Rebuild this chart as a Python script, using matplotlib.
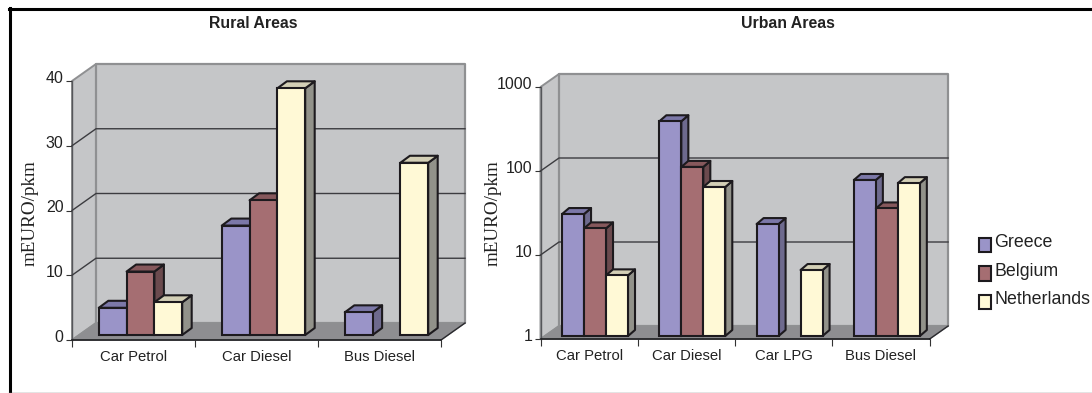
import matplotlib as mpl
mpl.use('Agg')
import matplotlib.pyplot as plt
import matplotlib.transforms as mtrans
from matplotlib.patches import Polygon, Patch
from matplotlib.lines import Line2D
import numpy as np

W, H = 1092, 393

series_names = ['Greece', 'Belgium', 'Netherlands']
face_colors = ['#9a94c8', '#a56e72', '#fff9d6']
side_colors = ['#6e6a8e', '#6b4a4e', '#92928a']
top_colors = ['#7c78a8', '#86585c', '#d3cfb6']

rural_cats = ['Car Petrol', 'Car Diesel', 'Bus Diesel']
rural_greece = [4.2, 16.9, 3.5]
rural_belgium = [9.8, 20.8, None]
rural_netherlands = [5.05, 38.1, 26.6]
rural_ticks = [0, 10, 20, 30, 40]

urban_cats = ['Car Petrol', 'Car Diesel', 'Car LPG', 'Bus Diesel']
urban_greece = [28.3, 360, 21.5, 72]
urban_belgium = [19.1, 103, None, 33]
urban_netherlands = [5.27, 59.4, 6.1, 66]
urban_ticks = [1, 10, 100, 1000]

plt.rcParams['font.family'] = ['Liberation Sans', 'DejaVu Sans']
EDGE = '#1d1a1e'
WALL = '#c5c6c8'
WALL_EDGE = '#8f9092'
FLOOR = '#8e8e91'
ident = mtrans.IdentityTransform()

fig = plt.figure(figsize=(W / 100, H / 100), dpi=100)


def make_axes(left, right, top, bottom):
    # pixel box of the front plane, y measured from the top of the image
    return fig.add_axes([left / W, 1 - bottom / H, (right - left) / W, (bottom - top) / H])


def poly(ax, pts, fc, ec=None, lw=0, z=1):
    ax.add_patch(Polygon(pts, closed=True, facecolor=fc, edgecolor=ec if ec else fc,
                         linewidth=lw, transform=ident, clip_on=False, zorder=z, joinstyle='round'))


def box_plot(ax, cats, groups, ticks, depth, shift, bar_depth, ylog=False):
    n = len(cats)
    if ylog:
        ax.set_yscale('log')
    ax.set_xlim(0, n)
    ax.set_ylim(ticks[0], ticks[-1])
    ax.patch.set_visible(False)

    # walls and floor behind the bars
    x0, y0 = ax.transAxes.transform((0, 0))
    x1, y1 = ax.transAxes.transform((1, 1))
    dx, dy = depth
    poly(ax, [(x0, y0), (x0 + dx, y0 + dy), (x0 + dx, y1 + dy), (x0, y1)], WALL, WALL_EDGE, 1.4, 1)
    poly(ax, [(x0 + dx, y0 + dy), (x1 + dx, y0 + dy), (x1 + dx, y1 + dy), (x0 + dx, y1 + dy)], WALL, WALL_EDGE, 1.6, 1)
    poly(ax, [(x0, y0), (x0 + dx, y0 + dy), (x1 + dx, y0 + dy), (x1, y0)], FLOOR, WALL_EDGE, 1, 2)

    for t in ticks[1:-1]:
        yt = ax.transData.transform((0, t))[1]
        ax.add_line(Line2D([x0, x0 + dx, x1 + dx], [yt, yt + dy, yt + dy], color='#3c3c40', lw=1.0,
                           transform=ident, clip_on=False, zorder=3))
    # floor edge running back on the right
    ax.add_line(Line2D([x1, x1 + dx], [y0, y0 + dy], color='#2a2a2e', lw=1.0, transform=ident, clip_on=False, zorder=3))

    offset = ax.transData + mtrans.Affine2D().translate(shift[0], shift[1])
    width = 0.226
    z = 5
    for i in range(n):
        for j, vals in enumerate(groups):
            v = vals[i]
            if v is None:
                continue
            xl = i + 0.5 + (j - 1.5) * width
            xr = xl + width
            (ax0, ay0) = offset.transform((xl, ticks[0]))
            (ax1, ay1) = offset.transform((xr, v))
            bx, by = bar_depth
            poly(ax, [(ax1, ay0), (ax1 + bx, ay0 + by), (ax1 + bx, ay1 + by), (ax1, ay1)], side_colors[j], EDGE, 1.5, z)
            poly(ax, [(ax0, ay1), (ax0 + bx, ay1 + by), (ax1 + bx, ay1 + by), (ax1, ay1)], top_colors[j], EDGE, 1.5, z)
            ax.bar(xl, v - ticks[0], width, bottom=ticks[0], align='edge', color=face_colors[j], edgecolor=EDGE,
                   linewidth=1.5, transform=offset, zorder=z + 1, clip_on=False)
            z += 2

    for s in ['top', 'right']:
        ax.spines[s].set_visible(False)
    ax.spines['left'].set_color('#55565a')
    ax.spines['bottom'].set_color('#1d1d20')
    ax.spines['left'].set_linewidth(1.0)
    ax.spines['bottom'].set_linewidth(1.2)
    ax.spines['bottom'].set_zorder(4)

    ax.set_xticks(np.arange(n + 1))
    ax.set_xticklabels([])
    ax.set_xticks(np.arange(n) + 0.5, minor=True)
    ax.set_xticklabels(cats, minor=True, fontsize=10.7, color='#222222')
    ax.tick_params(axis='x', which='minor', length=0, pad=7)
    ax.tick_params(axis='x', which='major', length=5, width=0.8, color='#333333')
    ax.set_yticks(ticks)
    ax.set_yticklabels([str(t) for t in ticks], fontsize=11.5, color='#222222')
    ax.yaxis.set_minor_locator(mpl.ticker.NullLocator())
    ax.tick_params(axis='y', length=4, width=0.8, color='#333333', pad=2)
    for lab in ax.get_yticklabels():
        lab.set_transform(lab.get_transform() + mtrans.Affine2D().translate(0, 4))
    ax.set_ylabel('mEURO/pkm', family='Liberation Serif', fontsize=13.8, color='#222222')


ax1 = make_axes(72, 441, 81, 340)
box_plot(ax1, rural_cats, [rural_greece, rural_belgium, rural_netherlands], rural_ticks,
         (24, 17), (7, 5), (9.5, 7))
ax1.yaxis.set_label_coords((39 - 72) / 369, 0.49)

ax2 = make_axes(540.5, 929.6, 87, 339)
box_plot(ax2, urban_cats, [urban_greece, urban_belgium, urban_netherlands], urban_ticks,
         (18.5, 13), (5.9, 3), (7, 6), ylog=True)
ax2.yaxis.set_label_coords((502 - 540.5) / 389.1, 0.5)

fig.text(253 / W, 1 - 23 / H, 'Rural Areas', fontsize=11.4, fontweight='bold', ha='center', va='center', color='#222222')
fig.text(788 / W, 1 - 24 / H, 'Urban Areas', fontsize=11.4, fontweight='bold', ha='center', va='center', color='#222222')

handles = [Patch(facecolor=c, edgecolor=EDGE, linewidth=1.5) for c in face_colors]
leg = fig.legend(handles, series_names, loc='upper left', bbox_to_anchor=(979 / W, 1 - 234 / H), frameon=False,
                 fontsize=12.8, handlelength=0.66, handleheight=0.85, handletextpad=0.2, labelspacing=0.62,
                 borderpad=0, borderaxespad=0, labelcolor='#222222')
# swatches sit a little lower than their labels
for h in leg.legend_handles:
    h.set_y(h.get_y() - 3)

# outer frame: heavy on top and left, thin grey along the bottom
fig.add_artist(Line2D([9.5 / W, 9.5 / W], [1 - 8 / H, 1 - 392 / H], color='black', lw=2.2))
fig.add_artist(Line2D([8.5 / W, 1], [1 - 9 / H, 1 - 9 / H], color='black', lw=2.2))
fig.add_artist(Line2D([9 / W, 1], [1 - 392.5 / H, 1 - 392.5 / H], color='#777777', lw=1.0))

fig.savefig('out.png', dpi=100)
